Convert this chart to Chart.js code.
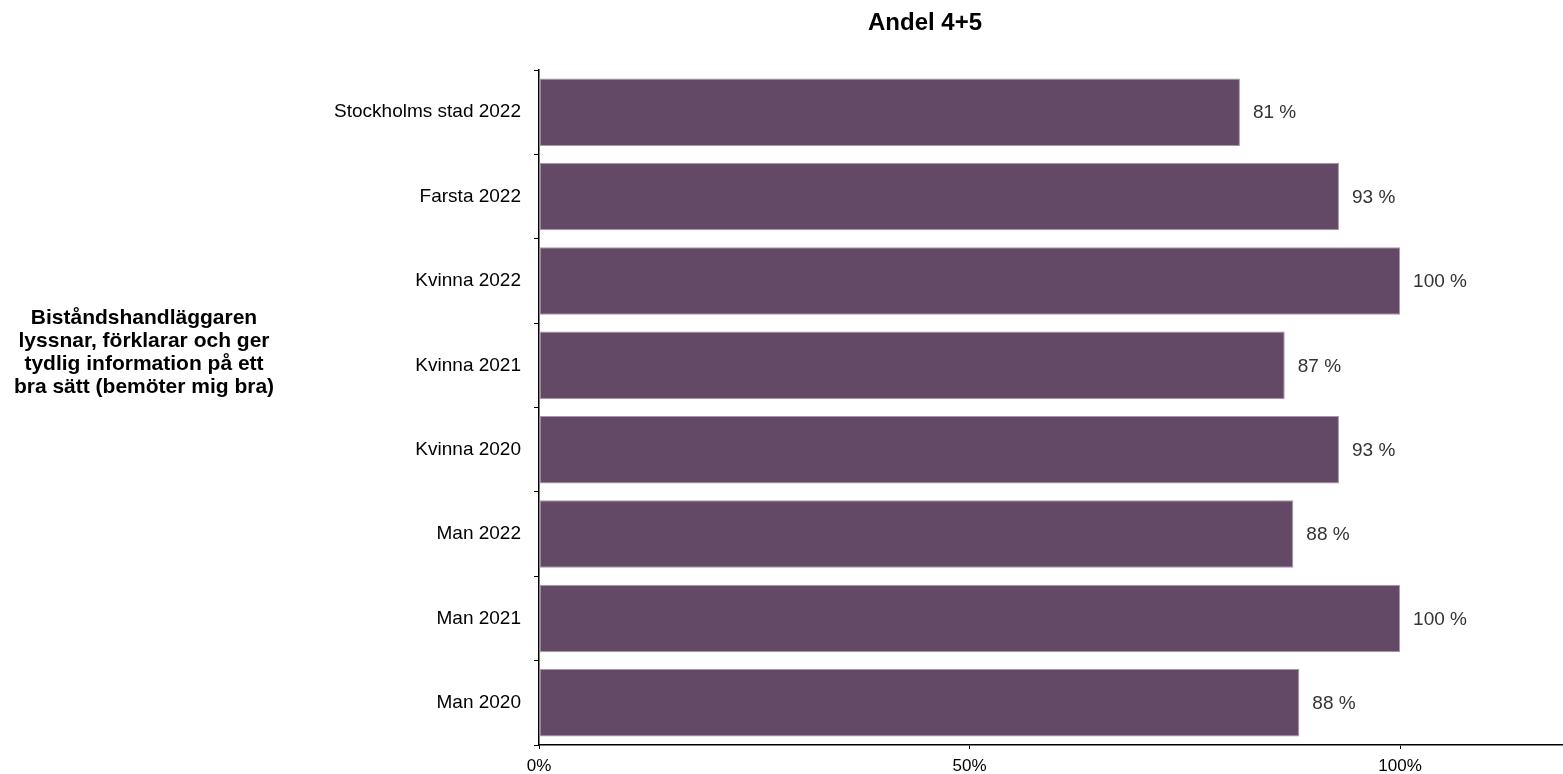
<!DOCTYPE html>
<html>
<head>
<meta charset="utf-8">
<script src="https://cdn.jsdelivr.net/npm/chart.js@4"></script>
<style>
  html, body { margin: 0; padding: 0; background: #fff; }
  #wrap { width: 1563px; height: 774px; }
</style>
</head>
<body>
<div id="wrap"><canvas id="andel-chart"></canvas></div>
<script>
const categories = [
  "Stockholms stad 2022",
  "Farsta 2022",
  "Kvinna 2022",
  "Kvinna 2021",
  "Kvinna 2020",
  "Man 2022",
  "Man 2021",
  "Man 2020",
];
const andel = [0.814, 0.929, 1.0, 0.866, 0.929, 0.876, 1.0, 0.883];
const xTicks = [0, 0.5, 1];
const chartTitle = "Andel 4+5";
const questionLines = [
  "Biståndshandläggaren",
  "lyssnar, förklarar och ger",
  "tydlig information på ett",
  "bra sätt (bemöter mig bra)",
];

const andel_chart = document.getElementById("andel-chart");
const FONT = "'Liberation Sans', Arial, sans-serif";

// title, value labels at bar ends + question text on the left
const extraText = {
  id: 'extraText',
  afterDatasetsDraw(chart) {
    const ctx = chart.ctx;
    ctx.save();
    ctx.fillStyle = '#333333';
    ctx.font = "19px " + FONT;
    ctx.textAlign = 'left';
    ctx.textBaseline = 'middle';
    chart.getDatasetMeta(0).data.forEach((bar, i) => {
      ctx.fillText(Math.round(andel[i] * 100) + ' %', bar.x + 13, bar.y + 1);
    });

    ctx.fillStyle = '#000000';
    ctx.textAlign = 'center';
    ctx.font = "bold 24px " + FONT;
    ctx.fillText(chartTitle, 925, 23);

    ctx.font = "bold 21px " + FONT;
    const lh = 23;
    questionLines.forEach((line, i) => {
      ctx.fillText(line, 144, 353 + (i - (questionLines.length - 1) / 2) * lh);
    });
    ctx.restore();
  }
};

(function createAndelChart() {
  new Chart(andel_chart, {
    type: 'bar',
    data: {
      labels: categories,
      datasets: [
        {
          label: chartTitle,
          data: andel,
          backgroundColor: 'rgb(99, 73, 101)',
          borderColor: 'rgb(170, 150, 172)',
          borderWidth: 1,
          borderSkipped: false,
          barPercentage: 0.8,
          categoryPercentage: 1.0,
        }
      ]
    },
    options: {
      indexAxis: 'y',
      responsive: true,
      maintainAspectRatio: false,
      animation: false,
      layout: { padding: { left: 0, right: 1, top: 70, bottom: 0 } },
      scales: {
        x: {
          min: 0,
          max: 1.188,
          afterBuildTicks: (scale) => { scale.ticks = xTicks.map(v => ({ value: v })); },
          afterFit: (scale) => { scale.height = 29; },
          border: { color: '#000', width: 1.5 },
          grid: { drawOnChartArea: false, tickLength: 4, color: '#000' },
          ticks: {
            color: '#000',
            padding: 7,
            font: { family: FONT, size: 17 },
            maxRotation: 0,
            callback: (v) => Math.round(v * 100) + '%'
          }
        },
        y: {
          afterFit: (scale) => { scale.width = 539; },
          border: { color: '#000', width: 1.5 },
          grid: { drawOnChartArea: false, tickLength: 5, color: '#000', offset: true },
          ticks: {
            color: '#000',
            padding: 13,
            font: { family: FONT, size: 19 }
          }
        }
      },
      plugins: {
        legend: { display: false },
        tooltip: { enabled: false },
        title: { display: false }
      }
    },
    plugins: [extraText]
  });
})();
</script>
</body>
</html>
